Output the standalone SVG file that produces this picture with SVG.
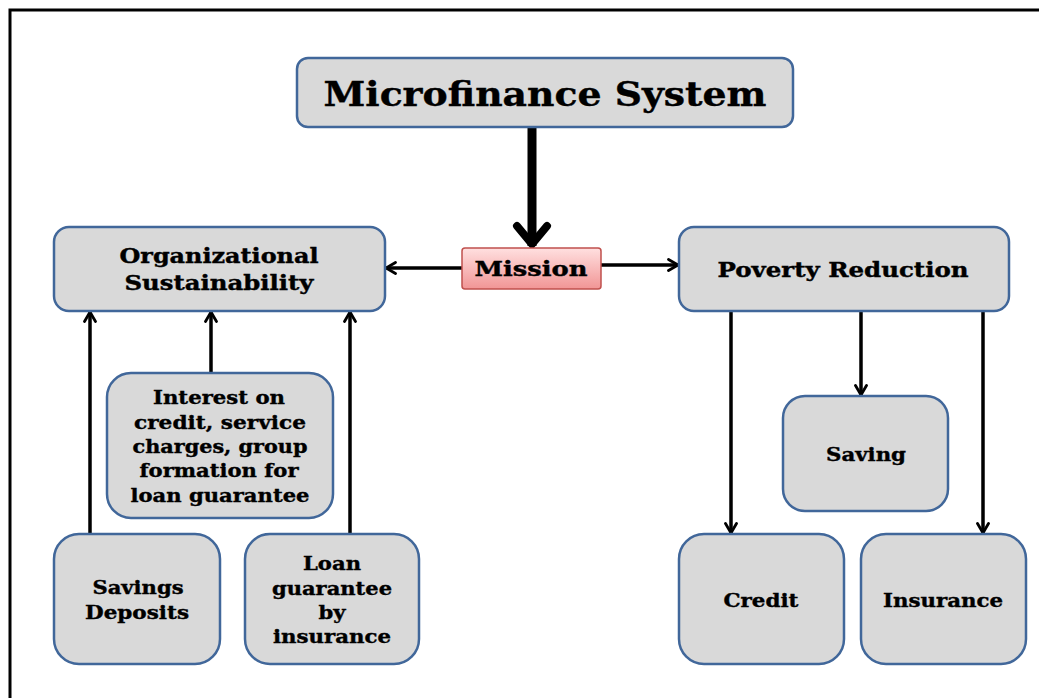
<svg xmlns="http://www.w3.org/2000/svg" width="1039" height="698" viewBox="0 0 1039 698">
  <style>
    .box { fill: #d9d9d9; stroke: #41679a; stroke-width: 2.5; }
    .lbl { font-family: "DejaVu Serif", "Liberation Serif", serif; font-weight: bold; fill: #000; stroke: #000; stroke-width: 0.4; text-anchor: middle; dominant-baseline: central; }
    .wire { stroke: #000; stroke-width: 3.5; fill: none; marker-end: url(#head); }
  </style>
  <defs>
    <marker id="head" viewBox="0 0 14 14" refX="12.5" refY="7" markerWidth="14" markerHeight="14" markerUnits="userSpaceOnUse" orient="auto">
      <path d="M3,1.5 L12.5,7 L3,12.5" fill="none" stroke="#000" stroke-width="2.8" stroke-linecap="round" stroke-linejoin="miter"/>
    </marker>
    <marker id="bighead" viewBox="0 0 40 40" refX="36" refY="20" markerWidth="40" markerHeight="40" markerUnits="userSpaceOnUse" orient="auto">
      <path d="M16,5 L34,20 L16,35" fill="none" stroke="#000" stroke-width="8" stroke-linecap="round" stroke-linejoin="miter"/>
    </marker>
    <linearGradient id="pink" x1="0" y1="0" x2="0" y2="1">
      <stop offset="0" stop-color="#ffe0e0"/>
      <stop offset="1" stop-color="#f19595"/>
    </linearGradient>
  </defs>

  <!-- outer frame -->
  <rect x="10" y="10" width="1040" height="700" fill="#fff" stroke="#000" stroke-width="3"/>

  <g id="connectors">
    <line x1="532" y1="127" x2="532" y2="246" stroke="#000" stroke-width="9" marker-end="url(#bighead)"/>
    <line class="wire" x1="462" y1="268" x2="386" y2="268"/>
    <line class="wire" x1="601" y1="265" x2="678" y2="265"/>
    <line class="wire" x1="90" y1="534" x2="90" y2="312"/>
    <line class="wire" x1="211" y1="373" x2="211" y2="312"/>
    <line class="wire" x1="350" y1="534" x2="350" y2="312"/>
    <line class="wire" x1="731" y1="311" x2="731" y2="533"/>
    <line class="wire" x1="861" y1="311" x2="861" y2="395"/>
    <line class="wire" x1="983" y1="311" x2="983" y2="533"/>
  </g>

  <g id="microfinance-system">
    <rect class="box" x="297" y="58" width="496" height="69" rx="11"/>
    <text class="lbl" x="545" y="94" font-size="33" textLength="443" lengthAdjust="spacingAndGlyphs">Microfinance System</text>
  </g>

  <g id="mission">
    <rect x="462" y="248" width="139" height="41" rx="3" fill="url(#pink)" stroke="#c0504d" stroke-width="1.5"/>
    <text class="lbl" x="531" y="268" font-size="21" textLength="113" lengthAdjust="spacingAndGlyphs">Mission</text>
  </g>

  <g id="organizational-sustainability">
    <rect class="box" x="54" y="227" width="331" height="84" rx="15"/>
    <text class="lbl" x="219" y="256" font-size="20" textLength="199" lengthAdjust="spacingAndGlyphs">Organizational</text>
    <text class="lbl" x="219" y="283" font-size="20" textLength="189" lengthAdjust="spacingAndGlyphs">Sustainability</text>
  </g>

  <g id="poverty-reduction">
    <rect class="box" x="679" y="227" width="330" height="84" rx="15"/>
    <text class="lbl" x="843" y="270" font-size="20" textLength="251" lengthAdjust="spacingAndGlyphs">Poverty Reduction</text>
  </g>

  <g id="interest">
    <rect class="box" x="107" y="373" width="226" height="145" rx="24"/>
    <text class="lbl" x="219" y="397" font-size="19" textLength="132" lengthAdjust="spacingAndGlyphs">Interest on</text>
    <text class="lbl" x="220" y="422" font-size="19" textLength="172" lengthAdjust="spacingAndGlyphs">credit, service</text>
    <text class="lbl" x="220" y="446" font-size="19" textLength="175" lengthAdjust="spacingAndGlyphs">charges, group</text>
    <text class="lbl" x="219" y="470" font-size="19" textLength="159" lengthAdjust="spacingAndGlyphs">formation for</text>
    <text class="lbl" x="220" y="495" font-size="19" textLength="179" lengthAdjust="spacingAndGlyphs">loan guarantee</text>
  </g>

  <g id="savings-deposits">
    <rect class="box" x="54" y="534" width="166" height="130" rx="25"/>
    <text class="lbl" x="138" y="587" font-size="19" textLength="91" lengthAdjust="spacingAndGlyphs">Savings</text>
    <text class="lbl" x="137" y="612" font-size="19" textLength="104" lengthAdjust="spacingAndGlyphs">Deposits</text>
  </g>

  <g id="loan-guarantee">
    <rect class="box" x="245" y="534" width="174" height="130" rx="25"/>
    <text class="lbl" x="332" y="563" font-size="19" textLength="58" lengthAdjust="spacingAndGlyphs">Loan</text>
    <text class="lbl" x="332" y="588" font-size="19" textLength="120" lengthAdjust="spacingAndGlyphs">guarantee</text>
    <text class="lbl" x="332" y="612" font-size="19" textLength="27" lengthAdjust="spacingAndGlyphs">by</text>
    <text class="lbl" x="332" y="636" font-size="19" textLength="118" lengthAdjust="spacingAndGlyphs">insurance</text>
  </g>

  <g id="saving">
    <rect class="box" x="783" y="396" width="165" height="115" rx="22"/>
    <text class="lbl" x="866" y="454" font-size="19" textLength="80" lengthAdjust="spacingAndGlyphs">Saving</text>
  </g>

  <g id="credit">
    <rect class="box" x="679" y="534" width="165" height="130" rx="25"/>
    <text class="lbl" x="761" y="600" font-size="19" textLength="75" lengthAdjust="spacingAndGlyphs">Credit</text>
  </g>

  <g id="insurance">
    <rect class="box" x="861" y="534" width="165" height="130" rx="25"/>
    <text class="lbl" x="943" y="600" font-size="19" textLength="120" lengthAdjust="spacingAndGlyphs">Insurance</text>
  </g>
</svg>
